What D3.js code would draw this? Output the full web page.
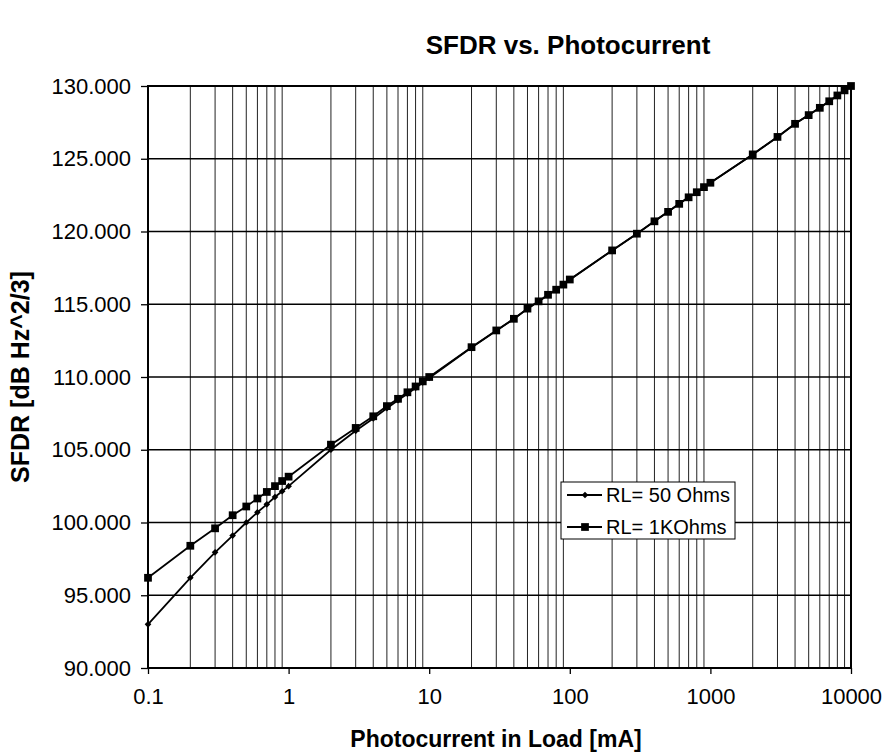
<!DOCTYPE html>
<html>
<head>
<meta charset="utf-8">
<script src="https://cdn.jsdelivr.net/npm/d3@7"></script>
<style>
  body { margin: 0; background: #fff; }
  svg { font-family: "Liberation Sans", Arial, sans-serif; }
</style>
</head>
<body>
<svg id="chart"></svg>
<script>
// Photocurrent in load [mA]
const current = [
  0.1, 0.2, 0.3, 0.4, 0.5, 0.6, 0.7, 0.8, 0.9,
  1, 2, 3, 4, 5, 6, 7, 8, 9,
  10, 20, 30, 40, 50, 60, 70, 80, 90,
  100, 200, 300, 400, 500, 600, 700, 800, 900,
  1000, 2000, 3000, 4000, 5000, 6000, 7000, 8000, 9000,
  10000
];

// SFDR [dB Hz^2/3], RL = 50 Ohms (diamonds)
const sfdr50 = [
  93.0, 96.2, 97.95, 99.1, 100.0, 100.7, 101.25, 101.75, 102.15,
  102.5, 105.0, 106.3, 107.15, 107.85, 108.4, 108.85, 109.25, 109.62,
  109.93, 112.02, 113.18, 113.99, 114.69, 115.19, 115.64, 115.99, 116.34,
  116.69, 118.7, 119.85, 120.7, 121.35, 121.9, 122.35, 122.7, 123.05,
  123.35, 125.3, 126.5, 127.4, 128.0, 128.5, 128.95, 129.35, 129.7,
  130.0
];

// SFDR [dB Hz^2/3], RL = 1 KOhms (squares)
const sfdr1k = [
  96.2, 98.4, 99.6, 100.5, 101.1, 101.65, 102.1, 102.5, 102.85,
  103.15, 105.35, 106.5, 107.3, 108.0, 108.5, 108.95, 109.35, 109.7,
  110.0, 112.05, 113.2, 114.0, 114.7, 115.2, 115.65, 116.0, 116.35,
  116.7, 118.7, 119.85, 120.7, 121.35, 121.9, 122.35, 122.7, 123.05,
  123.35, 125.3, 126.5, 127.4, 128.0, 128.5, 128.95, 129.35, 129.7,
  130.0
];

const xTicks = [0.1, 1, 10, 100, 1000, 10000];
const yTicks = [90, 95, 100, 105, 110, 115, 120, 125, 130];
const minorGrid = [
  0.2, 0.3, 0.4, 0.5, 0.6, 0.7, 0.8, 0.9,
  2, 3, 4, 5, 6, 7, 8, 9,
  20, 30, 40, 50, 60, 70, 80, 90,
  200, 300, 400, 500, 600, 700, 800, 900,
  2000, 3000, 4000, 5000, 6000, 7000, 8000, 9000
];
const seriesNames = ["RL= 50 Ohms", "RL= 1KOhms"];

function drawChart() {
  const W = 887, H = 754;
  const margin = { top: 86, right: 36, bottom: 86, left: 148 };
  const width = W - margin.left - margin.right,
    height = H - margin.top - margin.bottom;

  const svg = d3.select("#chart").attr("width", W).attr("height", H);

  const g = svg.append("g")
    .attr("transform", `translate(${margin.left}, ${margin.top})`);

  // Define the scales
  const x = d3.scaleLog().domain([0.1, 10000]).range([0, width]);
  const y = d3.scaleLinear().domain([90, 130]).range([height, 0]);

  // Vertical gridlines (2..9 in each decade)
  g.append("g")
    .selectAll("line")
    .data(minorGrid)
    .enter()
    .append("line")
    .attr("x1", d => x(d)).attr("x2", d => x(d))
    .attr("y1", 0).attr("y2", height)
    .attr("stroke", "#222")
    .attr("stroke-width", 1);

  // Horizontal gridlines
  g.append("g")
    .selectAll("line")
    .data(yTicks)
    .enter()
    .append("line")
    .attr("x1", 0).attr("x2", width)
    .attr("y1", d => y(d)).attr("y2", d => y(d))
    .attr("stroke", "#000")
    .attr("stroke-width", 1.3);

  // Axes
  const xAxis = d3.axisBottom(x)
    .tickValues(xTicks)
    .tickFormat(d => String(d))
    .tickSize(6)
    .tickPadding(14);
  const yAxis = d3.axisLeft(y)
    .tickValues(yTicks)
    .tickFormat(d3.format(".3f"))
    .tickSize(7)
    .tickPadding(10);

  const gx = g.append("g")
    .attr("transform", `translate(0, ${height})`)
    .call(xAxis);
  const gy = g.append("g").call(yAxis);

  [gx, gy].forEach(a => {
    a.select(".domain").remove();
    a.selectAll("line").attr("stroke", "#000").attr("stroke-width", 1.3);
    a.selectAll("text")
      .attr("fill", "#000")
      .style("font-size", "22px");
  });

  // Plot border
  g.append("rect")
    .attr("x", 0).attr("y", 0)
    .attr("width", width).attr("height", height)
    .attr("fill", "none")
    .attr("stroke", "#000")
    .attr("stroke-width", 2);

  // Lines + markers
  const series = [
    { name: seriesNames[0], values: sfdr50, marker: "diamond" },
    { name: seriesNames[1], values: sfdr1k, marker: "square" }
  ];

  const line = d3.line()
    .x(d => x(d[0]))
    .y(d => y(d[1]));

  const diamond = d3.symbol().type(d3.symbolSquare).size(22);
  const square = d3.symbol().type(d3.symbolSquare).size(60);

  function marker(sel, type) {
    if (type === "diamond") {
      sel.attr("d", diamond).attr("transform", function (d) {
        return d3.select(this).attr("transform") + " rotate(45)";
      });
    } else {
      sel.attr("d", square);
    }
  }

  series.forEach(s => {
    const pts = current.map((c, i) => [c, s.values[i]]);
    g.append("path")
      .datum(pts)
      .attr("fill", "none")
      .attr("stroke", "#000")
      .attr("stroke-width", 1.8)
      .attr("d", line);

    g.append("g")
      .selectAll("path")
      .data(pts)
      .enter()
      .append("path")
      .attr("transform", d => `translate(${x(d[0])}, ${y(d[1])})`)
      .call(marker, s.marker)
      .attr("fill", "#000");
  });

  // Legend
  const lg = svg.append("g").attr("transform", "translate(561, 482)");
  lg.append("rect")
    .attr("width", 174).attr("height", 57)
    .attr("fill", "#fff")
    .attr("stroke", "#000")
    .attr("stroke-width", 1);

  series.forEach((s, i) => {
    const row = lg.append("g").attr("transform", `translate(0, ${13 + i * 32})`);
    row.append("line")
      .attr("x1", 6).attr("x2", 41)
      .attr("stroke", "#000").attr("stroke-width", 1.8);
    row.append("path")
      .datum([0, 0])
      .attr("transform", "translate(24, 0)")
      .call(marker, s.marker)
      .attr("fill", "#000");
    row.append("text")
      .attr("x", 45)
      .attr("dy", "0.35em")
      .style("font-size", "20px")
      .text(s.name);
  });

  // Titles
  svg.append("text")
    .attr("x", 568).attr("y", 47)
    .attr("text-anchor", "middle")
    .attr("dominant-baseline", "middle")
    .style("font-size", "26px")
    .style("font-weight", "bold")
    .text("SFDR vs. Photocurrent");

  svg.append("text")
    .attr("x", 496).attr("y", 741)
    .attr("text-anchor", "middle")
    .attr("dominant-baseline", "middle")
    .style("font-size", "23px")
    .style("font-weight", "bold")
    .text("Photocurrent in Load [mA]");

  svg.append("text")
    .attr("transform", "translate(22, 377) rotate(-90)")
    .attr("text-anchor", "middle")
    .attr("dominant-baseline", "middle")
    .style("font-size", "25px")
    .style("font-weight", "bold")
    .text("SFDR [dB Hz^2/3]");
}

drawChart();
</script>
</body>
</html>
